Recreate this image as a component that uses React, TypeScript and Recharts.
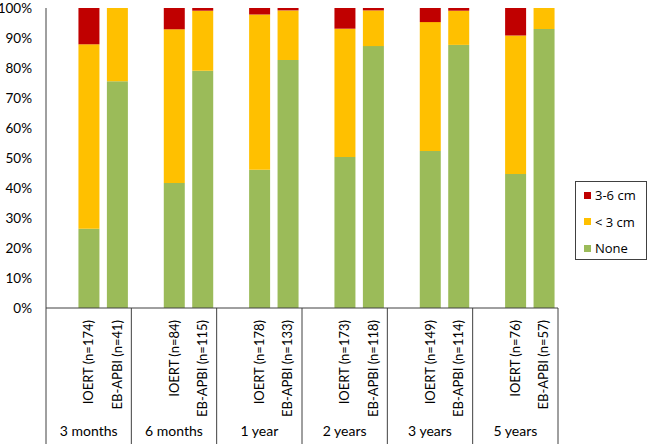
import React from 'react';
import { BarChart, Bar, XAxis, YAxis, Legend } from 'recharts';

const groups = ['3 months', '6 months', '1 year', '2 years', '3 years', '5 years'];
const arms = ['IOERT', 'EB-APBI'];
const nIOERT = [174, 84, 178, 173, 149, 76];
const nEB = [41, 115, 133, 118, 114, 57];

const ioertNone = [26.4, 41.7, 46.1, 50.3, 52.3, 44.7];
const ioertLt3 = [61.5, 51.2, 51.7, 42.8, 43.0, 46.1];
const ioert36 = [12.1, 7.1, 2.2, 6.9, 4.7, 9.2];
const ebNone = [75.6, 79.1, 82.7, 87.3, 87.7, 93.0];
const ebLt3 = [24.4, 20.0, 16.5, 11.9, 11.4, 7.0];
const eb36 = [0, 0.9, 0.8, 0.8, 0.9, 0];

const seriesKeys = ['none', 'lt3', 'cm36'];
const seriesNames = ['None', '< 3 cm', '3-6 cm'];
const seriesColors = ['#9BBB59', '#FFC000', '#C00000'];
const yTicks = [0, 10, 20, 30, 40, 50, 60, 70, 80, 90, 100];

type Row = { key: string; group: string; label: string; none?: number; lt3?: number; cm36?: number };

const data: Row[] = [];
groups.forEach((g, i) => {
  data.push({ key: `${i}-blank`, group: g, label: '' });
  data.push({ key: `${i}-a`, group: g, label: `${arms[0]} (n=${nIOERT[i]})`, none: ioertNone[i], lt3: ioertLt3[i], cm36: ioert36[i] });
  data.push({ key: `${i}-b`, group: g, label: `${arms[1]} (n=${nEB[i]})`, none: ebNone[i], lt3: ebLt3[i], cm36: eb36[i] });
});

const W = 649;
const H = 444;
const M = { top: 8, right: 91, left: 1, bottom: 0 };
const Y_W = 45;
const X_H = 136;
const PLOT_W = W - M.left - M.right - Y_W;
const SLOT = PLOT_W / data.length;
const FONT = 'Lato, "Open Sans", sans-serif';
const LINE = '#404040';

const Tick = (props: any) => {
  const { x, y, index } = props;
  const row = data[index];
  if (!row) return null;
  const pos = index % 3;
  const els: any[] = [];
  if (pos === 0) {
    const left = x - SLOT / 2;
    els.push(<line key="l" x1={left} y1={y} x2={left} y2={H} stroke={LINE} strokeWidth={1} />);
    els.push(
      <text key="g" x={left + SLOT * 1.5} y={y + 128} textAnchor="middle" fontSize={14} fill="#000" fontFamily={FONT}>
        {row.group}
      </text>
    );
  } else {
    els.push(
      <text
        key="t"
        x={x}
        y={y + 12}
        transform={`rotate(-90 ${x} ${y + 12})`}
        textAnchor="end"
        dy="0.35em"
        fontSize={13}
        fill="#000"
        fontFamily={FONT}
      >
        {row.label}
      </text>
    );
  }
  if (index === data.length - 1) {
    const right = x + SLOT / 2;
    els.push(<line key="r" x1={right} y1={y} x2={right} y2={H} stroke={LINE} strokeWidth={1} />);
  }
  return <g>{els}</g>;
};

const LegendBox = () => {
  const order = [2, 1, 0];
  return (
    <div
      style={{
        border: `1px solid ${LINE}`,
        width: 72,
        height: 79,
        boxSizing: 'border-box',
        paddingTop: 0,
        fontFamily: '"Open Sans", "Noto Sans", sans-serif',
        fontSize: 13,
        color: '#000',
      }}
    >
      {order.map((i) => (
        <div key={seriesKeys[i]} style={{ display: 'flex', alignItems: 'center', height: 26.5, paddingLeft: 8 }}>
          <span style={{ display: 'inline-block', width: 7, height: 7, background: seriesColors[i], marginRight: 4 }} />
          <span>{seriesNames[i]}</span>
        </div>
      ))}
    </div>
  );
};

export default function App() {
  return (
    <div style={{ position: 'absolute', left: 0, top: 0, width: W, height: H, background: '#fff' }}>
      <BarChart width={W} height={H} data={data} margin={M} barSize={21}>
        <YAxis
          width={Y_W}
          domain={[0, 100]}
          ticks={yTicks}
          interval={0}
          tickFormatter={(v: number) => `${v}%`}
          tickLine={false}
          tickSize={6}
          tickMargin={8}
          axisLine={{ stroke: LINE }}
          tick={{ fontSize: 13.5, fill: '#000', fontFamily: FONT }}
        />
        <XAxis
          dataKey="key"
          height={X_H}
          interval={0}
          tickLine={false}
          tickSize={0}
          tickMargin={0}
          axisLine={{ stroke: LINE }}
          tick={<Tick />}
        />
        {seriesKeys.map((k, i) => (
          <Bar key={k} dataKey={k} name={seriesNames[i]} stackId="a" fill={seriesColors[i]} isAnimationActive={false} />
        ))}
        <Legend
          layout="horizontal"
          verticalAlign="middle"
          align="center"
          content={<LegendBox />}
          wrapperStyle={{ position: 'absolute', left: 575, top: 181, width: 72, height: 79 }}
        />
      </BarChart>
    </div>
  );
}
